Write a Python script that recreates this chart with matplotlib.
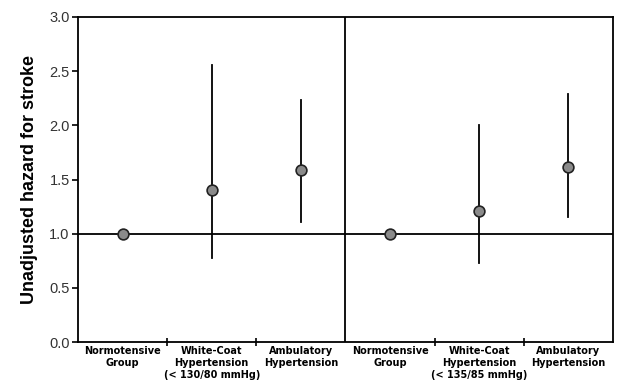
import numpy as np
import matplotlib.pyplot as plt

groups = ["Normotensive\nGroup", "White-Coat\nHypertension\n(< 130/80 mmHg)", "Ambulatory\nHypertension",
          "Normotensive\nGroup", "White-Coat\nHypertension\n(< 135/85 mmHg)", "Ambulatory\nHypertension"]
hazard = [1.0, 1.40, 1.59, 1.0, 1.21, 1.62]
ci_low = [np.nan, 0.78, 1.11, np.nan, 0.73, 1.15]
ci_high = [np.nan, 2.56, 2.23, np.nan, 2.00, 2.29]
y_ticks = [0.0, 0.5, 1.0, 1.5, 2.0, 2.5, 3.0]

fig = plt.figure(figsize=(6.17, 3.89), dpi=100)
ax = fig.add_axes([0.1264, 0.1208, 0.8671, 0.8355])

x = np.arange(len(groups)) + 0.5

# confidence intervals
for xi, lo, hi in zip(x, ci_low, ci_high):
    if not np.isnan(lo):
        ax.plot([xi, xi], [lo, hi], color="black", lw=1.3, zorder=2)

ax.axhline(1.0, color="black", lw=1.3, zorder=1)
ax.axvline(3, color="black", lw=1.3, zorder=1)
ax.scatter(x, hazard, s=60, color="#8a8a8a", edgecolor="#222222", linewidth=1.2, zorder=3)

ax.set_xlim(0, 6)
ax.set_ylim(0, 3.0)
ax.set_yticks(y_ticks)
ax.set_yticklabels([f"{v:.1f}" for v in y_ticks], fontsize=10.5, color="#333333",
                   family=["Liberation Sans", "DejaVu Sans"])
ax.tick_params(axis="y", direction="out", length=4, width=1.2, pad=2)

ax.set_xticks([1, 2, 4, 5])
ax.set_xticklabels([])
ax.set_xticks(x, minor=True)
ax.set_xticklabels(groups, minor=True, fontsize=7, fontweight="bold",
                   family=["Liberation Sans Narrow", "DejaVu Sans"], linespacing=1.25)
ax.tick_params(axis="x", which="major", direction="inout", length=6, width=1.2)
ax.tick_params(axis="x", which="minor", length=0, pad=3)

for s in ax.spines.values():
    s.set_linewidth(1.3)

ax.set_ylabel("Unadjusted hazard for stroke", fontsize=13, fontweight="bold", labelpad=8,
              family=["Liberation Sans", "DejaVu Sans"])

fig.savefig("out.png", dpi=100)
